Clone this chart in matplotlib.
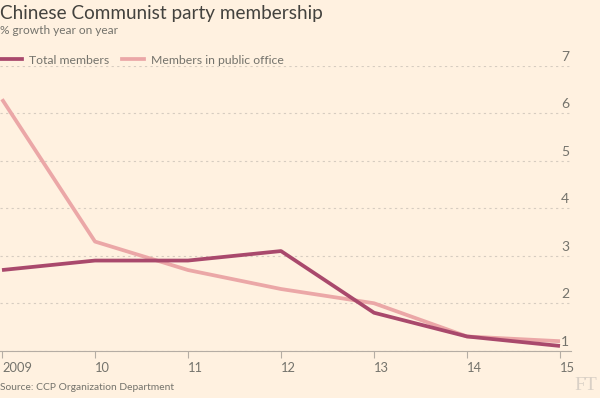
import matplotlib.pyplot as plt
import matplotlib.transforms as mtransforms
from matplotlib.lines import Line2D

# data
years = [2009, 2010, 2011, 2012, 2013, 2014, 2015]
year_labels = ["2009", "10", "11", "12", "13", "14", "15"]
total_members = [2.7, 2.9, 2.9, 3.1, 1.8, 1.3, 1.1]
public_office = [6.3, 3.3, 2.7, 2.3, 2.0, 1.3, 1.2]
y_ticks = [1, 2, 3, 4, 5, 6, 7]

bg = "#fff1e0"
dark = "#a9496c"
light = "#eba7a7"
grey = "#74736c"

plt.rcParams['font.family'] = ['Lato', 'DejaVu Sans']

fig = plt.figure(figsize=(6, 3.98), dpi=100, facecolor=bg)
ax = fig.add_axes([0, 1 - 350.7 / 398, 571 / 600, (350.7 - 66) / 398])
ax.set_facecolor(bg)

ax.plot(years, public_office, color=light, lw=2.7, solid_capstyle='butt', zorder=3)
ax.plot(years, total_members, color=dark, lw=2.7, solid_capstyle='butt', zorder=4)

ax.set_xlim(2009 - 2 / 93, 2015 + 11 / 93)
ax.set_ylim(1, 7)

for s in ['top', 'right', 'left']:
    ax.spines[s].set_visible(False)
ax.spines['bottom'].set_color('#b5ada4')
ax.spines['bottom'].set_linewidth(0.8)

ax.set_yticks(y_ticks)
ax.tick_params(axis='y', left=False, labelleft=False)
ax.yaxis.grid(True, linestyle=(0, (2, 3)), color='#d6ccc0', linewidth=0.8)
ax.set_axisbelow(True)

# y labels sit just above the gridlines, right aligned
trans = mtransforms.blended_transform_factory(ax.transAxes, ax.transData)
offset = mtransforms.ScaledTranslation(-2 / 100, 3 / 100, fig.dpi_scale_trans)
for v in y_ticks:
    ax.text(1.0, v, str(v), transform=trans + offset, ha='right', va='bottom',
            fontsize=10, color=grey)

ax.set_xticks(years)
ax.set_xticklabels(year_labels, fontsize=9.3, color=grey, ha='left')
ax.tick_params(axis='x', length=5, color='#b5ada4', width=0.8, pad=3)

fig.text(0.0, 1 - 13 / 398, "Chinese Communist party membership", fontsize=13.6,
         color='#43423e', va='center', ha='left')
fig.text(0.0, 1 - 31 / 398, "% growth year on year", fontsize=8.6, color=grey,
         va='center', ha='left')

handles = [Line2D([], [], color=dark, lw=2.7), Line2D([], [], color=light, lw=2.7)]
fig.legend(handles, ["Total members", "Members in public office"], ncol=2,
           loc='center left', bbox_to_anchor=(-0.008, 1 - 60 / 398), frameon=False,
           fontsize=8.8, handlelength=1.8, handletextpad=0.6, columnspacing=1.0,
           labelcolor=grey, borderaxespad=0)

fig.text(0.0, 1 - 387 / 398, "Source: CCP Organization Department", fontsize=7.4,
         color=grey, va='center', ha='left')
fig.text(0.995, 1 - 386 / 398, "FT", fontsize=14, color='#d9d0c6', family='Liberation Serif',
         va='center', ha='right')

fig.savefig("out.png", dpi=100, facecolor=bg)
